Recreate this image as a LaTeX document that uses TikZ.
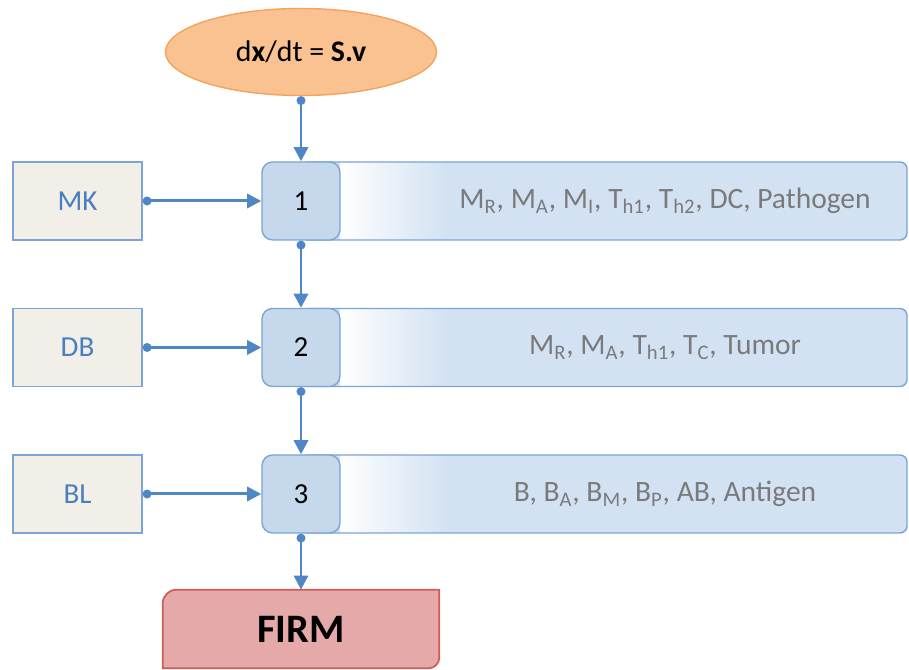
\documentclass[tikz,border=0pt]{standalone}
\usepackage{fontspec}
\setmainfont{Carlito}
\usetikzlibrary{positioning}
\usetikzlibrary{shapes.geometric, arrows.meta}

\definecolor{lineblue}{HTML}{4F86C6}
\definecolor{boxblue}{HTML}{C5D8EC}
\definecolor{barblue}{HTML}{D3E2F3}
\definecolor{edgeblue}{HTML}{7CA4D4}
\definecolor{srcfill}{HTML}{F1EFE8}
\definecolor{srctext}{HTML}{4A7EC0}
\definecolor{eqfill}{HTML}{FAC291}
\definecolor{eqedge}{HTML}{F2A35E}
\definecolor{firmfill}{HTML}{E4A9A8}
\definecolor{firmedge}{HTML}{CE5C5A}
\definecolor{listgray}{HTML}{7A7A7A}

\newcommand{\sbs}[1]{\textsubscript{#1}}

\tikzset{
  flow/.style={draw=lineblue, line width=1.7pt, {Circle[length=5pt]}-{Triangle[length=8pt,width=8pt]}},
  stage/.style={rectangle, rounded corners=6pt, draw=edgeblue, fill=boxblue, line width=0.8pt, minimum width=1.56cm, minimum height=1.56cm, inner sep=0pt, font=\fontsize{16.5}{18}\selectfont},
  source/.style={rectangle, draw=edgeblue, fill=srcfill, line width=0.8pt, minimum width=2.58cm, minimum height=1.56cm, text=srctext, font=\fontsize{16.5}{18}\selectfont},
  species/.style={text=listgray, font=\fontsize{16.8}{19}\selectfont}
}

\begin{document}
\begin{tikzpicture}
\useasboundingbox (0,0) rectangle (18.18,13.4);

% equation on top
\node[ellipse, draw=eqedge, fill=eqfill, line width=0.8pt, minimum width=5.42cm, minimum height=1.74cm, inner sep=0pt, font=\fontsize{17}{20}\selectfont] (eq) at (6.02,12.36) {d\textbf{x}/dt = \textbf{S.v}};

% bars behind the stages
\foreach \y in {9.38,6.45,3.52} {
\fill[barblue, rounded corners=4pt] (6.02,\y-0.78) rectangle (18.14,\y+0.78);
\shade[left color=white, right color=barblue] (6.8,\y-0.765) rectangle (8.9,\y+0.765);
\draw[edgeblue, line width=0.8pt, rounded corners=4pt] (6.02,\y-0.78) rectangle (18.14,\y+0.78);
}

\node[stage] (s1) at (6.02,9.38) {1};
\node[stage] (s2) at (6.02,6.45) {2};
\node[stage] (s3) at (6.02,3.52) {3};

\node[source] (mk) at (1.55,9.38) {MK};
\node[source] (db) at (1.55,6.45) {DB};
\node[source] (bl) at (1.55,3.52) {BL};

\node[species] (list1) at (13.3,9.38) {M\sbs{R}, M\sbs{A}, M\sbs{I}, T\sbs{h1}, T\sbs{h2}, DC, Pathogen};
\node[species] (list2) at (13.3,6.45) {M\sbs{R}, M\sbs{A}, T\sbs{h1}, T\sbs{C}, Tumor};
\node[species] (list3) at (13.3,3.52) {B, B\sbs{A}, B\sbs{M}, B\sbs{P}, AB, Antigen};

% result
\node[minimum width=5.52cm, minimum height=1.56cm, inner sep=0pt] (firm) at (6.02,0.82) {};
\draw[fill=firmfill, draw=firmedge, line width=1pt] (firm.south west) -- ([yshift=-0.28cm]firm.north west) arc[start angle=180, end angle=90, radius=0.28] -- (firm.north east) -- ([yshift=0.22cm]firm.south east) arc[start angle=0, end angle=-90, radius=0.22] -- cycle;
\node[font=\bfseries\fontsize{23}{26}\selectfont] at (firm.center) {FIRM};

\draw[flow] (eq.south) -- (s1.north);
\draw[flow] (s1.south) -- (s2.north);
\draw[flow] (s2.south) -- (s3.north);
\draw[flow] (s3.south) -- (firm.north);
\draw[flow] (mk.east) -- (s1.west);
\draw[flow] (db.east) -- (s2.west);
\draw[flow] (bl.east) -- (s3.west);

\end{tikzpicture}
\end{document}
